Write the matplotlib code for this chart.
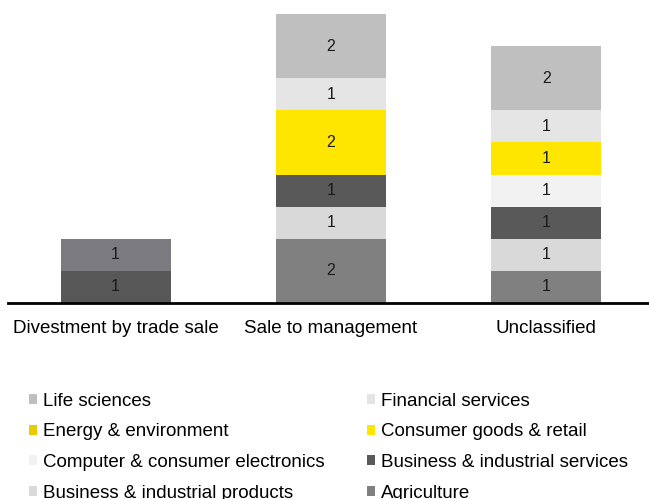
import matplotlib
matplotlib.use("Agg")
import matplotlib.pyplot as plt
from matplotlib.patches import Patch
import numpy as np

plt.rcParams['font.family'] = ['Liberation Sans', 'DejaVu Sans']

categories = ["Divestment by trade sale", "Sale to management", "Unclassified"]

# stack order bottom -> top
sectors = ["_other_a", "_other_b", "Agriculture", "Business & industrial products",
           "Business & industrial services", "Computer & consumer electronics",
           "Consumer goods & retail", "Energy & environment",
           "Financial services", "Life sciences"]
values = {
    "_other_a":                        [1, 0, 0],
    "_other_b":                        [1, 0, 0],
    "Agriculture":                     [0, 2, 1],
    "Business & industrial products":  [0, 1, 1],
    "Business & industrial services":  [0, 1, 1],
    "Computer & consumer electronics": [0, 0, 1],
    "Consumer goods & retail":         [0, 0, 1],
    "Energy & environment":            [0, 2, 0],
    "Financial services":              [0, 1, 1],
    "Life sciences":                   [0, 2, 2],
}
colors = {
    "_other_a": "#575757",
    "_other_b": "#7b7b7f",
    "Agriculture": "#808080",
    "Business & industrial products": "#d9d9d9",
    "Business & industrial services": "#595959",
    "Computer & consumer electronics": "#f2f2f2",
    "Consumer goods & retail": "#ffe600",
    "Energy & environment": "#ffe600",
    "Financial services": "#e5e5e5",
    "Life sciences": "#bfbfbf",
}
legend_colors = {"Energy & environment": "#e6cc00"}

W, H = 649, 499
fig = plt.figure(figsize=(W / 100, H / 100), dpi=100)
ax = fig.add_axes([8 / W, (H - 303) / H, 646 / W, 289 / H])

x = np.arange(len(categories))
bottom = np.zeros(len(categories))
for s in sectors:
    v = np.array(values[s], dtype=float)
    ax.bar(x, v, width=0.512, bottom=bottom, color=colors[s], label=s, linewidth=0)
    for xi, vi, bi in zip(x, v, bottom):
        if vi > 0:
            ax.text(xi, bi + vi / 2, f"{int(vi)}", ha="center", va="center",
                    fontsize=11.5, color="#1a1a1a")
    bottom += v

ax.set_xlim(-0.5, 2.5)
ax.set_ylim(0, 9)
for sp in ["top", "right", "left"]:
    ax.spines[sp].set_visible(False)
ax.spines["bottom"].set_linewidth(2)
ax.spines["bottom"].set_color("black")
ax.set_yticks([])
ax.set_xticks(x)
ax.set_xticklabels(categories, fontsize=13.5)
ax.tick_params(axis="x", length=0, pad=12)

legend_order = ["Life sciences", "Financial services", "Energy & environment",
                "Consumer goods & retail", "Computer & consumer electronics",
                "Business & industrial services", "Business & industrial products",
                "Agriculture"]
# ncol=2 fills column-wise, reorder to read row-wise
ordered = legend_order[0::2] + legend_order[1::2]
handles = [Patch(facecolor=legend_colors.get(s, colors[s]), edgecolor="none") for s in ordered]
fig.legend(handles, ordered, ncol=2, loc="upper left",
           bbox_to_anchor=(29 / W, 1 - 393 / H), frameon=False,
           fontsize=13.5, handlelength=0.45, handleheight=0.45,
           handletextpad=0.3, labelspacing=0.72, columnspacing=2.25,
           borderpad=0, borderaxespad=0)

fig.savefig("out.png", dpi=100)
